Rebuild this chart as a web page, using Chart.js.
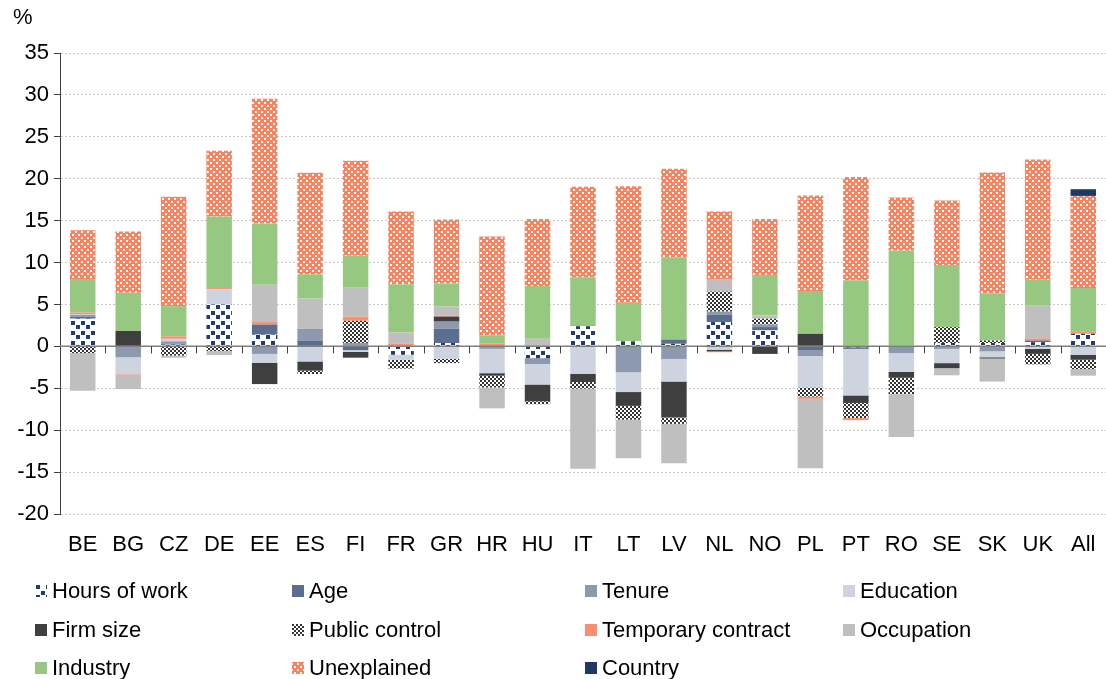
<!DOCTYPE html>
<html>
<head>
<meta charset="utf-8">
<script src="https://cdn.jsdelivr.net/npm/chart.js@4.4.1/dist/chart.umd.min.js"></script>
<style>
  html, body { margin: 0; padding: 0; background: #fff; }
  #wrap { width: 1106px; height: 679px; }
</style>
</head>
<body>
<div id="wrap"><canvas id="gapChart" width="1106" height="679"></canvas></div>
<script>
// categories and series, in stacking order
const countries = ["BE", "BG", "CZ", "DE", "EE", "ES", "FI", "FR", "GR", "HR", "HU", "IT",
    "LT", "LV", "NL", "NO", "PL", "PT", "RO", "SE", "SK", "UK", "All"];

const hoursOfWork = [3.3, 0.05, 0.2, 5.0, 1.4, 0, 0, -1.0, 0.4, 0.05, -1.4, 2.4,
    0.6, 0.3, 2.9, 1.9, 0, -0.1, 0, 0.4, 0.4, 0.5, 1.5];
const age = [0.25, 0, 0.1, 0, 1.2, 0.7, -0.45, 0, 1.7, 0, 0, 0,
    0, 0.5, 0.85, 0.4, -0.5, -0.2, -0.15, 0, 0, 0.2, 0];
const tenure = [0.2, -1.3, 0.3, 0, -0.9, 1.4, 0.4, 0, 0.85, -0.3, -0.7, 0,
    -3.1, -1.5, 0.4, 0.3, -0.65, 0, -0.65, -0.3, -0.6, 0, 0];
const education = [0.1, -2.0, 0.3, 1.8, -1.05, -1.8, -0.2, -0.6, -1.5, -2.9, -2.45, -3.3,
    -2.35, -2.7, -0.4, 0, -3.75, -5.55, -2.25, -1.7, -0.7, -0.3, -1.0];
const firmSize = [0, 1.8, 0, 0, -2.55, -1.1, -0.7, 0, 0.6, -0.3, -2.0, -0.95,
    -1.65, -4.3, -0.2, -0.9, 1.5, -0.9, -0.7, -0.6, -0.15, -0.6, -0.6];
const publicControl = [-0.8, 0, -1.1, -0.55, 0, -0.4, 2.65, -1.05, -0.5, -1.4, -0.35, -0.8,
    -1.65, -0.75, 2.4, 0.7, -1.1, -1.8, -1.95, 1.9, 0.3, -1.25, -1.1];
const temporaryContract = [0.2, -0.05, 0.3, 0.15, 0.3, 0, 0.5, 0.3, 0.1, 0.3, 0, 0.15,
    0, 0, -0.1, 0, -0.25, -0.25, 0, 0, 0, 0.25, 0.25];
const occupation = [-4.5, -1.75, -0.25, -0.5, 4.45, 3.6, 3.45, 1.35, 1.1, -2.5, 0.9, -9.55,
    -4.6, -4.7, 1.5, 0.4, -8.3, 0, -5.1, -0.85, -2.75, 3.9, -0.8];
const industry = [4.0, 4.55, 3.6, 8.55, 7.3, 2.9, 3.8, 5.75, 2.75, 0.95, 6.3, 5.7,
    4.6, 9.8, 0, 4.8, 5.1, 7.9, 11.45, 7.4, 5.65, 3.1, 5.2];
const unexplained = [5.8, 7.3, 13.05, 7.85, 14.9, 12.1, 11.35, 8.7, 7.65, 11.8, 8.0, 10.8,
    13.9, 10.6, 8.05, 6.7, 11.4, 12.3, 6.3, 7.7, 14.4, 14.35, 11.0];
const country = [0, 0, 0, 0, 0, 0, 0, 0, 0, 0, 0, 0,
    0, 0, 0, 0, 0, 0, 0, 0, 0, 0, 0.8];

const yTicks = [-20, -15, -10, -5, 0, 5, 10, 15, 20, 25, 30, 35];

const FONT = '"Liberation Sans", Arial, sans-serif';

function makePattern(size, bg, fg, squares) {
    const c = document.createElement("canvas");
    c.width = size;
    c.height = size;
    const g = c.getContext("2d");
    g.fillStyle = bg;
    g.fillRect(0, 0, size, size);
    g.fillStyle = fg;
    squares.forEach(([x, y, s]) => g.fillRect(x, y, s, s));
    return g.createPattern(c, "repeat");
}

const ctx = document.getElementById("gapChart").getContext("2d");

const hoursPattern = makePattern(10, "#ffffff", "#213c6e", [[1, 1, 4], [6, 5, 4]]);
const publicPattern = makePattern(4, "#ffffff", "#333333", [[0, 0, 2], [2, 2, 2]]);
const unexplainedPattern = makePattern(6, "#fb825f", "#ffffff", [[0, 0, 2], [3, 3, 2]]);

const series = [
    { label: "Hours of work", data: hoursOfWork, color: hoursPattern },
    { label: "Age", data: age, color: "#5b6e8f" },
    { label: "Tenure", data: tenure, color: "#8c99ae" },
    { label: "Education", data: education, color: "#cdd4e0" },
    { label: "Firm size", data: firmSize, color: "#3f3f3f" },
    { label: "Public control", data: publicControl, color: publicPattern },
    { label: "Temporary contract", data: temporaryContract, color: "#fc8d6f" },
    { label: "Occupation", data: occupation, color: "#bfbfbf" },
    { label: "Industry", data: industry, color: "#97c882" },
    { label: "Unexplained", data: unexplained, color: unexplainedPattern },
    { label: "Country", data: country, color: "#203864" },
];

const datasets = series.map((s) => ({
    label: s.label,
    data: s.data,
    backgroundColor: s.color,
    borderWidth: 0,
    barPercentage: 1,
    categoryPercentage: 0.56,
}));

// zero line, category ticks, "%" unit and the 4-column legend
const extrasPlugin = {
    id: "extras",
    afterDatasetsDraw(chart) {
        const { ctx, chartArea, scales } = chart;
        const y0 = scales.y.getPixelForValue(0);
        ctx.save();
        ctx.strokeStyle = "#7f7f7f";
        ctx.lineWidth = 1.5;
        ctx.beginPath();
        ctx.moveTo(chartArea.left, y0);
        ctx.lineTo(chartArea.right, y0);
        ctx.stroke();
        ctx.strokeStyle = "#404040";
        ctx.lineWidth = 1;
        for (let i = 1; i < countries.length; i++) {
            const x = Math.round((scales.x.getPixelForValue(i - 1) + scales.x.getPixelForValue(i)) / 2) + 0.5;
            ctx.beginPath();
            ctx.moveTo(x, y0);
            ctx.lineTo(x, y0 + 7);
            ctx.stroke();
        }
        ctx.restore();
    },
    afterDraw(chart) {
        const ctx = chart.ctx;
        ctx.save();
        ctx.font = "22px " + FONT;
        ctx.fillStyle = "#000";
        ctx.textBaseline = "alphabetic";
        ctx.textAlign = "left";
        ctx.fillText("%", 13, 24);

        const cols = [35, 292, 585, 843];
        const rows = [591, 630, 668];
        ctx.textBaseline = "middle";
        series.forEach((s, i) => {
            const x = cols[i % 4];
            const y = rows[Math.floor(i / 4)];
            ctx.fillStyle = s.color;
            ctx.fillRect(x, y - 6, 12, 12);
            ctx.fillStyle = "#000";
            ctx.fillText(s.label, x + 17, y + 1);
        });
        ctx.restore();
    },
};

new Chart(ctx, {
    type: "bar",
    data: {
        labels: countries,
        datasets: datasets,
    },
    options: {
        responsive: false,
        animation: false,
        layout: { padding: { top: 53, right: 0, left: 0, bottom: 0 } },
        plugins: {
            legend: { display: false },
            tooltip: { enabled: false },
        },
        scales: {
            x: {
                stacked: true,
                grid: { display: false },
                border: { display: false },
                ticks: {
                    color: "#000",
                    font: { family: FONT, size: 22 },
                    padding: 10,
                    maxRotation: 0,
                    autoSkip: false,
                },
                afterFit(scale) {
                    scale.height = 165;
                },
            },
            y: {
                stacked: true,
                min: -20,
                max: 35,
                afterBuildTicks(scale) {
                    scale.ticks = yTicks.map((v) => ({ value: v }));
                },
                grid: {
                    color: (c) => (c.tick && c.tick.value === 0 ? "rgba(0,0,0,0)" : "#c8c8c8"),
                    lineWidth: 1,
                    tickColor: "#404040",
                    tickLength: 6,
                    tickBorderDash: [],
                },
                border: { display: true, color: "#404040", width: 1, dash: [2, 2] },
                ticks: {
                    color: "#000",
                    font: { family: FONT, size: 22 },
                    padding: 5,
                },
                afterFit(scale) {
                    scale.width = 60;
                },
            },
        },
    },
    plugins: [extrasPlugin],
});
</script>
</body>
</html>
